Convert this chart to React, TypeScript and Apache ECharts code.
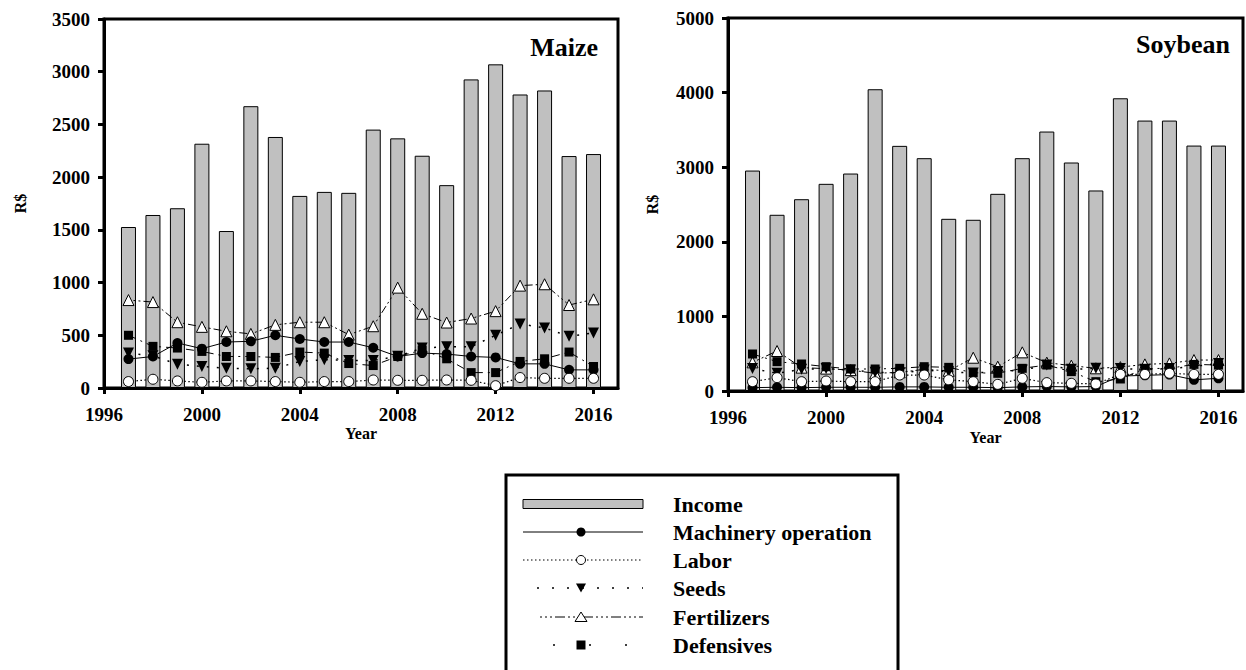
import React, { useEffect, useRef } from 'react';
import * as echarts from 'echarts';

const years = [1997, 1998, 1999, 2000, 2001, 2002, 2003, 2004, 2005, 2006, 2007, 2008, 2009, 2010, 2011, 2012, 2013, 2014, 2015, 2016];
const tickYears = [1996, 2000, 2004, 2008, 2012, 2016];

const maizeIncome = [1527, 1641, 1705, 2317, 1489, 2673, 2381, 1822, 1860, 1851, 2451, 2368, 2203, 1924, 2927, 3070, 2784, 2822, 2200, 2219];
const maizeMachinery = [274, 299, 427, 373, 436, 443, 500, 465, 436, 436, 382, 299, 331, 322, 299, 290, 229, 229, 172, 172];
const maizeLabor = [61, 83, 67, 54, 67, 67, 61, 54, 61, 61, 76, 73, 73, 76, 73, 22, 99, 92, 92, 92];
const maizeSeeds = [331, 305, 226, 204, 188, 182, 188, 252, 268, 262, 261, 300, 379, 392, 392, 500, 608, 570, 490, 522];
const maizeFertilizers = [834, 815, 624, 580, 538, 513, 599, 624, 624, 506, 586, 952, 704, 621, 659, 729, 971, 984, 787, 841];
const maizeDefensives = [500, 395, 379, 347, 299, 299, 290, 341, 331, 232, 213, 299, 360, 277, 146, 146, 252, 277, 341, 204];

const soyIncome = [2955, 2362, 2571, 2777, 2915, 4045, 3286, 3121, 2308, 2295, 2643, 3121, 3478, 3063, 2688, 3924, 3625, 3625, 3290, 3290];
const soyMachinery = [45, 50, 45, 50, 50, 50, 55, 55, 50, 50, 45, 55, 60, 55, 60, 200, 210, 220, 150, 170];
const soyLabor = [125, 179, 125, 134, 125, 125, 214, 214, 150, 125, 89, 170, 112, 103, 95, 223, 223, 237, 223, 223];
const soySeeds = [300, 237, 290, 300, 280, 250, 240, 280, 259, 240, 260, 280, 348, 290, 304, 300, 290, 300, 330, 370];
const soyFertilizers = [384, 536, 313, 300, 280, 237, 250, 290, 270, 446, 326, 518, 380, 340, 304, 320, 357, 370, 415, 415];
const soyDefensives = [496, 393, 362, 326, 295, 295, 304, 326, 317, 245, 237, 304, 348, 260, 125, 161, 300, 304, 357, 348];

const FONT = "'Liberation Serif', 'Times New Roman', serif";
const BAR_FILL = '#c0c0c0';

const pairs = (vals: number[]) => years.map((y, i) => [y, vals[i]]);

const dashMachinery: any = 'solid';
const dashLabor = [1.5, 2.5];
const dashSeeds = [2, 8];
const dashFert = [2, 3, 2, 3, 2, 3, 8, 3];
const dashDef = [8, 5, 2, 5];

function makeSeries(idx: number, income: number[], mach: number[], labor: number[], seeds: number[], fert: number[], def: number[]) {
  const base = { type: 'line', xAxisIndex: idx, yAxisIndex: idx, z: 3 };
  return [
    {
      name: 'Income', type: 'bar', xAxisIndex: idx, yAxisIndex: idx, barWidth: 15,
      data: pairs(income),
      itemStyle: { color: BAR_FILL, borderColor: '#000', borderWidth: 1 },
    },
    {
      ...base, name: 'Fertilizers', data: pairs(fert), symbol: 'triangle', symbolSize: 11,
      itemStyle: { color: '#fff', borderColor: '#000', borderWidth: 1 },
      lineStyle: { color: '#000', width: 1, type: dashFert },
    },
    {
      ...base, name: 'Seeds', data: pairs(seeds), symbol: 'triangle', symbolRotate: 180, symbolSize: 11,
      itemStyle: { color: '#000' },
      lineStyle: { color: '#000', width: 1.5, type: dashSeeds },
    },
    {
      ...base, name: 'Defensives', data: pairs(def), symbol: 'rect', symbolSize: 9,
      itemStyle: { color: '#000' },
      lineStyle: { color: '#000', width: 1, type: dashDef },
    },
    {
      ...base, name: 'Machinery operation', data: pairs(mach), symbol: 'circle', symbolSize: 10,
      itemStyle: { color: '#000' },
      lineStyle: { color: '#000', width: 1, type: dashMachinery },
    },
    {
      ...base, name: 'Labor', data: pairs(labor), symbol: 'circle', symbolSize: 10,
      itemStyle: { color: '#fff', borderColor: '#000', borderWidth: 1 },
      lineStyle: { color: '#000', width: 1.2, type: dashLabor },
    },
  ];
}

const labelStyle = { fontFamily: FONT, fontWeight: 'bold', fontSize: 19, color: '#000' };
const nameStyle = { fontFamily: FONT, fontWeight: 'bold', fontSize: 16, color: '#000' };

function xAxis(idx: number, gap: number) {
  return {
    type: 'value', gridIndex: idx, min: 1996, max: 2017, interval: 4,
    axisLine: { show: true, onZero: false, lineStyle: { color: '#000', width: 3 } },
    axisTick: { show: true, length: 6, lineStyle: { color: '#000', width: 3 }, customValues: tickYears },
    axisLabel: { ...labelStyle, margin: 17, customValues: tickYears, formatter: (v: number) => String(v) },
    splitLine: { show: false },
    name: 'Year', nameLocation: 'middle', nameGap: gap, nameMoveOverlap: false, nameTextStyle: nameStyle,
  };
}

function yAxis(idx: number, max: number, interval: number, gap: number) {
  return {
    type: 'value', gridIndex: idx, min: 0, max, interval,
    axisLine: { show: true, lineStyle: { color: '#000', width: 3 } },
    axisTick: { show: true, length: 6, lineStyle: { color: '#000', width: 3 } },
    axisLabel: { ...labelStyle, margin: 14, formatter: (v: number) => String(v) },
    splitLine: { show: false },
    name: 'R$', nameLocation: 'middle', nameRotate: 90, nameGap: gap, nameTextStyle: nameStyle,
  };
}

const legendRows = ['Income', 'Machinery operation', 'Labor', 'Seeds', 'Fertilizers', 'Defensives'];

function legendGraphics() {
  const rowY = [504, 532, 560, 588, 617, 645];
  const x0 = 523, x1 = 643, sx = 581;
  const els: any[] = [
    { type: 'rect', shape: { x: 506, y: 475, width: 392, height: 215 }, style: { fill: '#fff', stroke: '#000', lineWidth: 3 }, z: 10 },
  ];
  legendRows.forEach((name, i) => {
    els.push({
      type: 'text', x: 673, y: rowY[i], z: 11,
      style: { text: name, font: `bold 22px ${FONT}`, fill: '#000', textAlign: 'left', textVerticalAlign: 'middle', align: 'left', verticalAlign: 'middle' },
    });
  });
  els.push({ type: 'rect', shape: { x: x0, y: rowY[0] - 4.5, width: 120, height: 9 }, style: { fill: BAR_FILL, stroke: '#000', lineWidth: 1 }, z: 11 });
  els.push({ type: 'line', shape: { x1: x0, y1: rowY[1], x2: x1, y2: rowY[1] }, style: { stroke: '#000', lineWidth: 1 }, z: 11 });
  els.push({ type: 'circle', shape: { cx: sx, cy: rowY[1], r: 4.5 }, style: { fill: '#000' }, z: 12 });
  els.push({ type: 'line', shape: { x1: x0, y1: rowY[2], x2: x1, y2: rowY[2] }, style: { stroke: '#000', lineWidth: 1.2, lineDash: dashLabor }, z: 11 });
  els.push({ type: 'circle', shape: { cx: sx, cy: rowY[2], r: 4.5 }, style: { fill: '#fff', stroke: '#000', lineWidth: 1 }, z: 12 });
  els.push({ type: 'line', shape: { x1: x0 + 14, y1: rowY[3], x2: x1, y2: rowY[3] }, style: { stroke: '#000', lineWidth: 1.5, lineDash: [2, 13] }, z: 11 });
  els.push({ type: 'polygon', shape: { points: [[sx - 5, rowY[3] - 4.5], [sx + 5, rowY[3] - 4.5], [sx, rowY[3] + 4.5]] }, style: { fill: '#000' }, z: 12 });
  els.push({ type: 'line', shape: { x1: x0 + 17, y1: rowY[4], x2: x1, y2: rowY[4] }, style: { stroke: '#000', lineWidth: 1, lineDash: [2, 3, 2, 3, 2, 3, 10, 3] }, z: 11 });
  els.push({ type: 'polygon', shape: { points: [[sx - 6, rowY[4] + 4.5], [sx + 6, rowY[4] + 4.5], [sx, rowY[4] - 5]] }, style: { fill: '#fff', stroke: '#000', lineWidth: 1 }, z: 12 });
  els.push({ type: 'line', shape: { x1: x0 + 30, y1: rowY[5], x2: x1, y2: rowY[5] }, style: { stroke: '#000', lineWidth: 1.5, lineDash: [2, 34] }, z: 11 });
  els.push({ type: 'rect', shape: { x: sx - 4.5, y: rowY[5] - 4.5, width: 9, height: 9 }, style: { fill: '#000' }, z: 12 });
  return els;
}

export default function App() {
  const ref = useRef<HTMLDivElement>(null);
  useEffect(() => {
    const chart = echarts.init(ref.current!, null, { renderer: 'svg' });
    const option: any = {
      animation: false,
      backgroundColor: '#fff',
      textStyle: { fontFamily: FONT },
      grid: [
        { left: 104, top: 19, width: 514, height: 369, show: true, borderColor: '#000', borderWidth: 3, backgroundColor: 'transparent' },
        { left: 728, top: 18, width: 515, height: 373, show: true, borderColor: '#000', borderWidth: 3, backgroundColor: 'transparent' },
      ],
      xAxis: [xAxis(0, 37), xAxis(1, 38)],
      yAxis: [yAxis(0, 3500, 500, 76), yAxis(1, 5000, 1000, 68)],
      series: [
        ...makeSeries(0, maizeIncome, maizeMachinery, maizeLabor, maizeSeeds, maizeFertilizers, maizeDefensives),
        ...makeSeries(1, soyIncome, soyMachinery, soyLabor, soySeeds, soyFertilizers, soyDefensives),
      ],
      graphic: [
        { type: 'text', x: 598, y: 47, z: 20, style: { text: 'Maize', font: `bold 26px ${FONT}`, fill: '#000', textAlign: 'right', textVerticalAlign: 'middle', align: 'right', verticalAlign: 'middle' } },
        { type: 'text', x: 1230, y: 44, z: 20, style: { text: 'Soybean', font: `bold 26px ${FONT}`, fill: '#000', textAlign: 'right', textVerticalAlign: 'middle', align: 'right', verticalAlign: 'middle' } },
        ...legendGraphics(),
      ],
    };
    chart.setOption(option);
    return () => chart.dispose();
  }, []);
  return <div ref={ref} style={{ position: 'absolute', left: 0, top: 0, width: 1246, height: 670 }} />;
}
